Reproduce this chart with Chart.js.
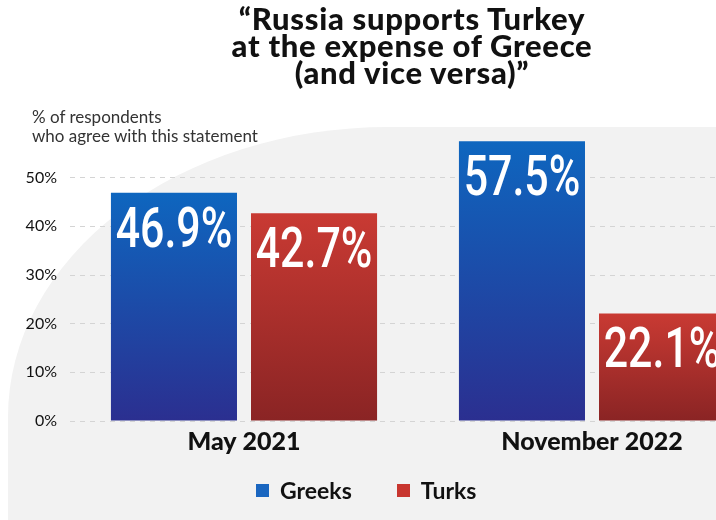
<!DOCTYPE html>
<html>
<head>
<meta charset="utf-8">
<script src="https://cdn.jsdelivr.net/npm/chart.js@4"></script>
<style>
    html, body { margin: 0; padding: 0; width: 716px; height: 520px; overflow: hidden; background: #fff; }
    #wrap { position: relative; width: 716px; height: 520px; }
    #chart { position: absolute; left: 0; top: 0; }
    .title {
        position: absolute; left: 192px; width: 440px; top: 5px;
        text-align: center; font-family: Lato, sans-serif; font-weight: 900;
        font-size: 31px; line-height: 27px; letter-spacing: 0.7px; color: #111;
    }
    .sub {
        position: absolute; left: 32px; top: 107px;
        font-family: Lato, sans-serif; font-size: 17px; line-height: 19px; color: #333;
    }
    .legend {
        position: absolute; top: 476px; left: 256px;
        font-family: Lato, sans-serif; font-weight: 700; font-size: 23px; color: #111;
        display: flex; align-items: center;
    }
    .legend span.box { display: inline-block; width: 13px; height: 13px; margin-right: 11px; }
    .legend .item { display: flex; align-items: center; margin-right: 45px; }
</style>
</head>
<body>
<div id="wrap">
    <canvas id="chart" width="766" height="520"></canvas>
    <div class="title">“Russia supports Turkey<br>at the expense of Greece<br>(and vice versa)”</div>
    <div class="sub">% of respondents<br>who agree with this statement</div>
    <div class="legend">
        <div class="item"><span class="box" style="background:#1a66c0"></span>Greeks</div>
        <div class="item"><span class="box" style="background:#c8362f"></span>Turks</div>
    </div>
</div>
<script>
// === DATOS ===
const periods = ["May 2021", "November 2022"];
const greeks = [46.9, 57.5];
const turks = [42.7, 22.1];
const yTicks = [0, 10, 20, 30, 40, 50];

// Degradado vertical por barra (arriba claro, abajo oscuro)
function barGradient(top, bottom) {
    return (ctx) => {
        const chart = ctx.chart;
        if (!chart.chartArea || ctx.type !== "data") return top;
        const y = chart.scales.y;
        const yTop = y.getPixelForValue(ctx.raw);
        const yBot = y.getPixelForValue(0);
        const g = chart.ctx.createLinearGradient(0, yTop, 0, yBot);
        g.addColorStop(0, top);
        g.addColorStop(1, bottom);
        return g;
    };
}

// Fondo gris con esquina curva
const backdrop = {
    id: "backdrop",
    beforeDraw(chart) {
        const c = chart.ctx;
        const W = chart.width, H = chart.height;
        const left = 8, top = 127, rx = 380, ry = 290;
        c.save();
        c.fillStyle = "#f2f2f2";
        c.beginPath();
        c.moveTo(left, H);
        c.lineTo(left, top + ry);
        c.ellipse(left + rx, top + ry, rx, ry, 0, Math.PI, 1.5 * Math.PI);
        c.lineTo(W, top);
        c.lineTo(W, H);
        c.closePath();
        c.fill();
        c.restore();
    }
};

// Etiquetas de valor dentro de cada barra
const valueLabels = {
    id: "valueLabels",
    afterDatasetsDraw(chart) {
        const c = chart.ctx;
        c.save();
        c.fillStyle = "#fff";
        c.font = "500 55px Roboto, sans-serif";
        c.textAlign = "center";
        c.textBaseline = "alphabetic";
        chart.data.datasets.forEach((ds, i) => {
            chart.getDatasetMeta(i).data.forEach((bar, j) => {
                c.save();
                c.translate(bar.x, bar.y + 54);
                c.scale(0.78, 1);
                c.fillText(ds.data[j].toFixed(1) + "%", 0, 0);
                c.restore();
            });
        });
        c.restore();
    }
};

new Chart(document.getElementById("chart"), {
    type: "bar",
    data: {
        labels: periods,
        datasets: [
            { label: "Greeks", data: greeks, backgroundColor: barGradient("#0e66bf", "#2b2f90") },
            { label: "Turks", data: turks, backgroundColor: barGradient("#c93a33", "#8a2424") }
        ]
    },
    options: {
        responsive: false,
        animation: false,
        devicePixelRatio: 1,
        categoryPercentage: 0.805,
        barPercentage: 0.9,
        layout: { padding: { top: 129, left: 0, right: 0, bottom: 0 } },
        plugins: {
            legend: { display: false },
            title: { display: false },
            tooltip: { enabled: false }
        },
        scales: {
            y: {
                min: 0,
                max: 60,
                afterFit: (s) => { s.width = 70; },
                afterBuildTicks: (s) => { s.ticks = yTicks.concat([60]).map(v => ({ value: v })); },
                ticks: {
                    padding: 13,
                    color: "#111",
                    font: { family: "Lato, sans-serif", size: 16 },
                    callback: (v) => yTicks.includes(v) ? v + "%" : ""
                },
                grid: {
                    drawTicks: false,
                    color: (ctx) => ctx.tick && ctx.tick.value > 50 ? "transparent" : "#d4d4d4"
                },
                border: { display: false, dash: [5, 5] }
            },
            x: {
                afterFit: (s) => { s.height = 99; },
                ticks: {
                    padding: 6,
                    color: "#111",
                    font: { family: "Lato, sans-serif", size: 25, weight: "900" }
                },
                grid: { display: false, drawTicks: false },
                border: { display: false }
            }
        }
    },
    plugins: [backdrop, valueLabels]
});
</script>
</body>
</html>
